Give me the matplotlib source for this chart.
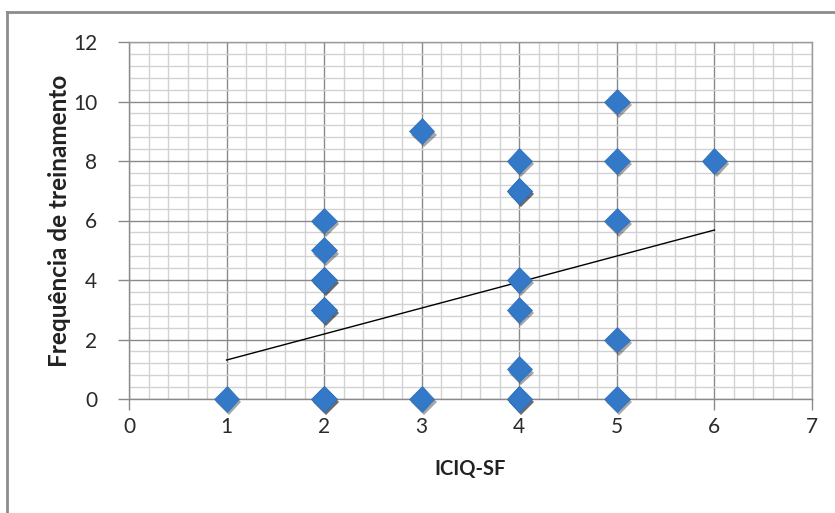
import numpy as np
import matplotlib
matplotlib.use('Agg')
import matplotlib.pyplot as plt
import matplotlib.patheffects as pe
from matplotlib.ticker import MultipleLocator
from matplotlib.lines import Line2D

# data (repeated points are drawn twice)
iciq = [1, 2, 2, 2, 2, 2, 2, 2, 2, 3, 3, 4, 4, 4, 4, 4, 4, 4, 4, 5, 5, 5, 5, 5, 6]
freq = [0, 0, 0, 3, 3, 4, 4, 5, 6, 0, 9, 0, 0, 1, 3, 4, 7, 7, 8, 0, 2, 6, 8, 10, 8]

# linear trend line as shown in the picture
trend_slope = 0.874
trend_intercept = 0.436

x_ticks = [0, 1, 2, 3, 4, 5, 6, 7]
y_ticks = [0, 2, 4, 6, 8, 10, 12]

plt.rcParams['font.family'] = ['Lato', 'DejaVu Sans']

fig = plt.figure(figsize=(8.35, 5.13), dpi=100)
ax = fig.add_axes([129/835, 1 - 399/513, (812 - 129)/835, (399 - 42)/513])

ax.set_xlim(0, 7)
ax.set_ylim(0, 12)
ax.set_xticks(x_ticks)
ax.set_yticks(y_ticks)
ax.xaxis.set_minor_locator(MultipleLocator(0.2))
ax.yaxis.set_minor_locator(MultipleLocator(0.4))

ax.grid(which='minor', color='#d2d2d2', lw=1.0)
ax.grid(which='major', color='#8a8a8a', lw=1.0)
ax.set_axisbelow(True)

for s in ax.spines.values():
    s.set_color('#9a9a9a')
    s.set_linewidth(1.0)
ax.spines['left'].set_color('#8a8a8a')
ax.spines['bottom'].set_color('#8a8a8a')

ax.tick_params(which='major', direction='out', length=8, width=1, color='#8a8a8a',
               labelsize=15, labelcolor='#2a2a2a')
ax.tick_params(axis='y', pad=15)
ax.tick_params(axis='x', pad=5)
ax.tick_params(which='minor', length=0)

# trend line
tx = np.array([min(iciq), max(iciq)])
ax.plot(tx, trend_slope*tx + trend_intercept, color='black', lw=1.0, zorder=3)

# scatter markers with soft shadow
ax.plot(iciq, freq, ls='none', marker='D', ms=13, color='#3479c8', mec='#2f6fb9', mew=0.5,
        zorder=4, clip_on=False,
        path_effects=[pe.SimplePatchShadow(offset=(1.5, -2.5), shadow_rgbFace='black', alpha=0.35),
                      pe.Normal()])

ax.set_xlabel('ICIQ-SF', fontsize=14.5, fontweight='bold', color='#222222', labelpad=16)
ax.set_ylabel('Frequência de treinamento', fontsize=17.5, fontweight='bold', color='#222222', labelpad=1)

# chart area frame (top and left edges visible)
fig.add_artist(Line2D([7/835, 1.0], [1 - 12/513, 1 - 12/513], color='#8c8c8c', lw=2))
fig.add_artist(Line2D([7/835, 7/835], [0, 1 - 12/513], color='#8c8c8c', lw=2))

fig.savefig('out.png', dpi=100)
